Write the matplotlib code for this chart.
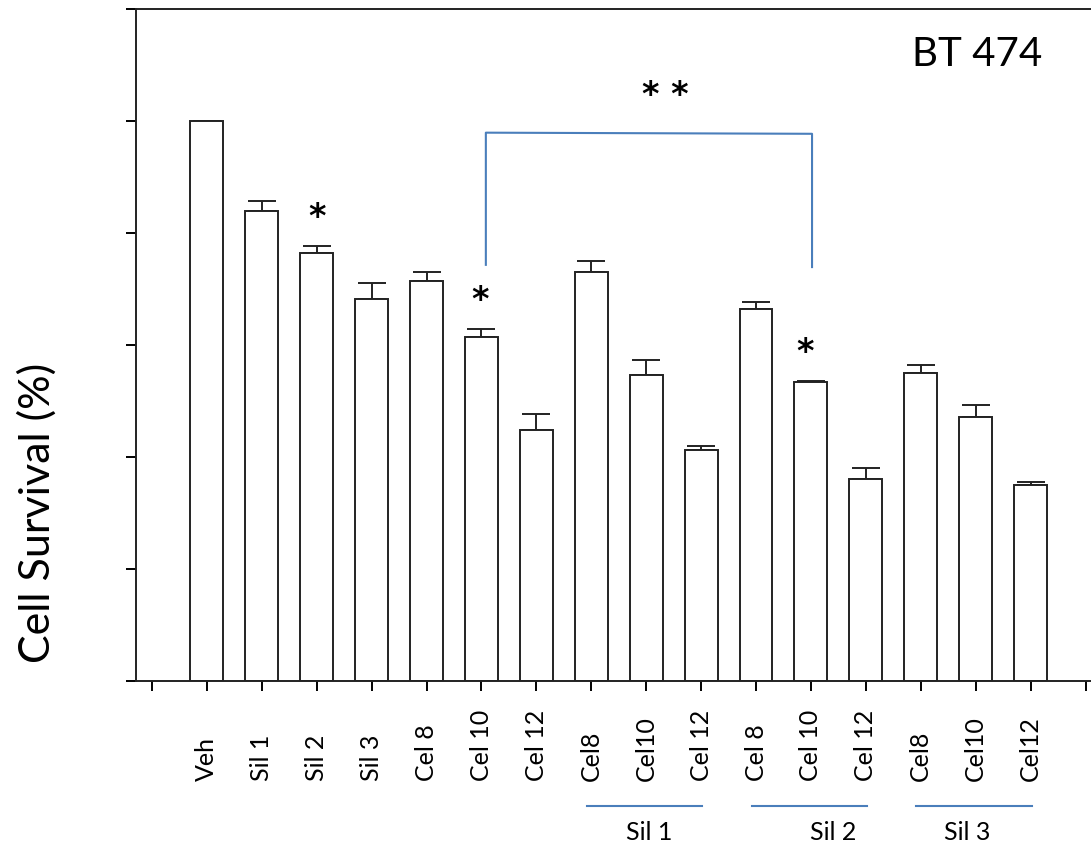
import numpy as np
import matplotlib
matplotlib.use('Agg')
import matplotlib.pyplot as plt
import matplotlib.transforms as mtransforms

plt.rcParams['font.family'] = ['Lato', 'DejaVu Sans']

labels = ['Veh', 'Sil 1', 'Sil 2', 'Sil 3', 'Cel 8', 'Cel 10', 'Cel 12',
          'Cel8', 'Cel10', 'Cel 12', 'Cel 8', 'Cel 10', 'Cel 12',
          'Cel8', 'Cel10', 'Cel12']
survival = [100, 83.9, 76.4, 68.2, 71.5, 61.4, 44.8,
            73.0, 54.6, 41.2, 66.5, 53.3, 36.0,
            54.9, 47.1, 34.9]
sem = [0, 1.8, 1.2, 2.9, 1.5, 1.4, 2.8,
       2.0, 2.7, 0.8, 1.25, 0.25, 2.1,
       1.5, 2.25, 0.55]
yticks = [0, 20, 40, 60, 80, 100, 120]

# combination groups under the x axis: (name, first bar, last bar, label x)
groups = [('Sil 1', 8, 10, 9.05), ('Sil 2', 11, 13, 12.4), ('Sil 3', 14, 16, 14.85)]
# single stars: (x, centre height)
stars = [(3, 84.5), (5.97, 69.8), (11.9, 60.4)]

blue = '#4a7ebb'
lw = 1.4

fig = plt.figure(figsize=(10.91, 8.48), dpi=100)
ax = fig.add_axes([0.1247, 0.197, 0.8753, 0.7925])

x = np.arange(1, len(labels) + 1)
ax.bar(x, survival, width=0.6, color='white', edgecolor='#222222', linewidth=lw, zorder=2)
ax.errorbar(x, survival, yerr=[np.zeros(len(sem)), sem], fmt='none',
            ecolor='#222222', elinewidth=lw, capsize=10, capthick=lw, zorder=1)

ax.set_xlim(-0.29, 17.1)
ax.set_ylim(0, 120)
ax.set_yticks(yticks)
ax.set_yticklabels([])
ax.set_xticks(np.arange(0, 18))
ax.set_xticklabels([''] + labels + [''], rotation=90, fontsize=18, va='bottom')
ax.tick_params(axis='x', direction='out', length=7, width=lw, pad=65)
ax.tick_params(axis='y', direction='out', length=7, width=lw)
for side in ['left', 'bottom', 'top']:
    ax.spines[side].set_linewidth(lw)
    ax.spines[side].set_color('#222222')
ax.spines['right'].set_visible(False)

ax.set_ylabel('Cell Survival (%)', fontsize=31)
ax.yaxis.set_label_coords(-0.083, 0.25)

ax.text(15.03, 111.8, 'BT 474', fontsize=29, ha='center', va='center')

# bracket between the two Cel 10 bars
ax.plot([6.08, 6.08, 12.02, 12.02], [74.3, 97.9, 97.7, 73.9], color=blue, lw=1.5)

# DejaVu asterisk sits about 0.59 em above the baseline -> shift down 3.5 units
ax.text(9.34, 106.4 - 3.5, '* *', fontsize=24, family='DejaVu Sans',
        fontweight='bold', ha='center', va='baseline')
for sx, sy in stars:
    ax.text(sx, sy - 3.5, '*', fontsize=24, family='DejaVu Sans',
            fontweight='bold', ha='center', va='baseline')

trans = mtransforms.blended_transform_factory(ax.transData, ax.transAxes)
for name, a, b, lx in groups:
    ax.plot([a - 0.08, b + 0.02], [-0.186, -0.186], color=blue, lw=1.5,
            transform=trans, clip_on=False)
    ax.text(lx, -0.226, name, fontsize=18, ha='center', va='center', transform=trans)

fig.savefig('out.png', dpi=100)
